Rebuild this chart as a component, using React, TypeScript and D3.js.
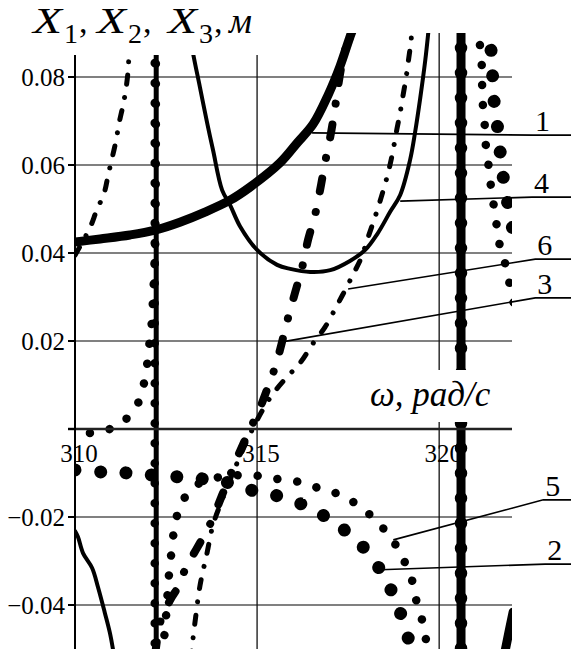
import React from "react";
import * as d3 from "d3";

// Frequency response of the three masses, two parameter sets (1–3 and 4–6)
type Pt = [number, number];

const omegaTicks = [310, 315, 320];
const xTicksY = [0.08, 0.06, 0.04, 0.02, 0, -0.02, -0.04];
const xTickLabels = ["0.08", "0.06", "0.04", "0.02", "", "\u22120.02", "\u22120.04"];

// curve 1: X1, first set
const x1a: Pt[] = [
  [310.0, 0.0425], [310.69, 0.0432], [311.51, 0.0441], [312.2, 0.0452], [312.88, 0.047],
  [313.57, 0.0493], [314.26, 0.052], [314.81, 0.055], [315.63, 0.0605], [316.1, 0.065],
  [316.54, 0.0693], [316.95, 0.0759], [317.28, 0.0825], [317.55, 0.0891], [317.64, 0.0911],
];
const x1b: Pt[] = [[321.76, -0.0525], [321.9, -0.0468], [322.03, -0.0416]];

// curve 2: X2, first set
const x2a: Pt[] = [
  [310.0, -0.0093], [310.77, -0.0098], [311.46, -0.01], [312.14, -0.0105], [312.88, -0.0109],
  [313.57, -0.0114], [314.26, -0.0123], [315.0, -0.0143], [315.71, -0.0155], [316.46, -0.018],
  [317.14, -0.0214], [317.83, -0.0261], [318.38, -0.032], [318.74, -0.0377], [319.01, -0.0436],
  [319.2, -0.0491], [319.29, -0.0525],
];
const x2b: Pt[] = [
  [321.35, 0.0918], [321.4, 0.088], [321.46, 0.0827], [321.48, 0.0766], [321.57, 0.0709],
  [321.65, 0.065], [321.73, 0.0589], [321.84, 0.0532], [321.98, 0.0473], [322.09, 0.0418],
];

// curve 3: X3, first set
const x3a: Pt[] = [
  [312.2, -0.0514], [312.34, -0.0439], [312.5, -0.0407], [312.66, -0.0382], [312.83, -0.0359],
  [313.02, -0.032], [313.21, -0.0291], [313.43, -0.0259], [313.63, -0.023], [313.85, -0.0189],
  [314.04, -0.015], [314.26, -0.0105], [314.45, -0.0066], [314.67, -0.0025], [314.86, 0.0009],
  [315.08, 0.0048], [315.27, 0.0089], [315.44, 0.0127], [315.63, 0.018], [315.82, 0.0243],
  [316.04, 0.0309], [316.24, 0.0368], [316.4, 0.043], [316.59, 0.0486], [316.73, 0.0543],
  [316.87, 0.0607], [317.01, 0.0664], [317.14, 0.073], [317.23, 0.0782], [317.36, 0.0843],
  [317.47, 0.0877], [317.61, 0.0918],
];

// curve 4: X1, second set
const x4a: Pt[] = [
  [310.0, -0.0232], [310.08, -0.0245], [310.22, -0.0282], [310.47, -0.0316], [310.63, -0.0359],
  [310.82, -0.0418], [310.96, -0.0464], [311.07, -0.0514],
];
const x4b: Pt[] = [
  [313.13, 0.0911], [313.24, 0.0855], [313.43, 0.0777], [313.63, 0.0695], [313.79, 0.0634],
  [314.04, 0.0543], [314.26, 0.0509], [314.53, 0.0461], [315.0, 0.0407], [315.55, 0.0373],
  [315.91, 0.0364], [316.46, 0.0357], [317.01, 0.0361], [317.55, 0.0382], [317.97, 0.0407],
  [318.3, 0.0443], [318.65, 0.0493], [318.93, 0.0532], [319.2, 0.0611], [319.34, 0.0675],
  [319.48, 0.0752], [319.62, 0.0839], [319.7, 0.09], [319.73, 0.0925],
];

// curve 5: X2, second set
const x5a: Pt[] = [
  [310.41, -0.0009], [310.96, 0.0], [311.46, 0.0027], [311.81, 0.0073], [311.92, 0.0118],
  [312.01, 0.0164], [312.06, 0.0209], [312.12, 0.0252], [312.14, 0.0298], [312.17, 0.0343],
  [312.2, 0.0407], [312.22, 0.0634], [312.22, 0.0907],
];
const x5b: Pt[] = [
  [312.39, -0.0514], [312.47, -0.0457], [312.53, -0.0389], [312.58, -0.0332], [312.64, -0.0286],
  [312.72, -0.023], [312.83, -0.0189], [313.02, -0.0155], [313.38, -0.0125], [313.98, -0.0109],
  [314.53, -0.0105], [315.08, -0.0107], [315.58, -0.0114], [316.13, -0.012], [316.68, -0.0134],
  [317.23, -0.0148], [317.77, -0.0173], [318.3, -0.0211], [318.74, -0.0255], [319.04, -0.03],
  [319.26, -0.0345], [319.37, -0.0389], [319.53, -0.0434], [319.64, -0.048], [319.73, -0.0525],
];
const x5c: Pt[] = [
  [321.1, 0.0918], [321.13, 0.0857], [321.18, 0.0816], [321.18, 0.077], [321.21, 0.0725],
  [321.26, 0.0682], [321.29, 0.0636], [321.37, 0.0591], [321.43, 0.0545], [321.51, 0.0502],
  [321.59, 0.0457], [321.68, 0.0411], [321.84, 0.0368], [321.95, 0.0323], [322.06, 0.0282],
];

// curve 6: X3, second set
const x6a: Pt[] = [
  [310.0, 0.0395], [310.05, 0.0402], [310.19, 0.0423], [310.41, 0.0457], [310.6, 0.0498],
  [310.8, 0.0536], [310.91, 0.0577], [311.02, 0.0616], [311.13, 0.0657], [311.21, 0.0695],
  [311.32, 0.0736], [311.4, 0.0773], [311.46, 0.0816], [311.48, 0.085], [311.51, 0.09],
  [311.54, 0.093],
];
const x6b: Pt[] = [
  [313.19, -0.0525], [313.21, -0.05], [313.32, -0.0423], [313.43, -0.0357], [313.63, -0.028],
  [313.79, -0.0218], [314.04, -0.0161], [314.31, -0.0105], [314.67, -0.0036], [315.03, 0.0025],
  [315.41, 0.0077], [315.82, 0.0118], [316.18, 0.015], [316.54, 0.0195], [316.87, 0.0232],
  [317.17, 0.0277], [317.42, 0.0316], [317.66, 0.0355], [317.86, 0.0389], [318.05, 0.0436],
  [318.24, 0.0482], [318.41, 0.0527], [318.57, 0.0573], [318.71, 0.0623], [318.82, 0.0673],
  [318.93, 0.072], [319.01, 0.0759], [319.09, 0.0798], [319.15, 0.0834], [319.23, 0.0884],
  [319.26, 0.0918],
];

// resonance frequencies where the traces jump between ±∞
const poleOmegas = [312.23, 320.6];

// curve labels: point on the curve, then the bend of the leader line
const labelNames = ["1", "4", "6", "3", "5", "2"];
const labelAnchors: Pt[] = [
  [316.51, 0.0673], [318.93, 0.0518], [317.5, 0.0318], [315.69, 0.0198], [318.74, -0.0252], [318.38, -0.032],
];
const labelBends: Pt[] = [
  [322.58, 0.0668], [322.55, 0.0527], [322.64, 0.0386], [322.64, 0.0298], [322.86, -0.0161], [322.91, -0.0307],
];

const W = 571;
const H = 649;
const left = 75;
const right = 512;
const top = 33;
const bottom = 649;
const serif = "'Times New Roman', 'Liberation Serif', serif";

const x = d3.scaleLinear().domain([310, 322]).range([left, right]);
const y = d3.scaleLinear().domain([-0.05, 0.09]).range([bottom, top]);
const line = d3
  .line<Pt>()
  .x((d) => x(d[0]))
  .y((d) => y(d[1]))
  .curve(d3.curveCatmullRom.alpha(0.5));

type Style = { width: number; dash?: string };
const solidThick: Style = { width: 9 };
const bigDots: Style = { width: 13, dash: "0.01 25.5" };
const dashDotThick: Style = { width: 8, dash: "13 21 0.01 21" };
const solidThin: Style = { width: 4 };
const smallDots: Style = { width: 8.5, dash: "0.01 20" };
const dashDotThin: Style = { width: 5, dash: "9 13.5 0.01 13.5" };

const traces: { pts: Pt[]; style: Style }[] = [
  { pts: x4a, style: solidThin },
  { pts: x4b, style: solidThin },
  { pts: x6a, style: dashDotThin },
  { pts: x6b, style: dashDotThin },
  { pts: x3a, style: dashDotThick },
  { pts: x1a, style: solidThick },
  { pts: x1b, style: solidThick },
  { pts: x5a, style: smallDots },
  { pts: x5b, style: smallDots },
  { pts: x5c, style: smallDots },
  { pts: x2a, style: bigDots },
  { pts: x2b, style: bigDots },
];

const poleStyles = [
  { line: 5, dots: smallDots, dx: -1.5 },
  { line: 9, dots: { width: 12.5, dash: "0.01 25" }, dx: 0 },
];

// symbols of the vertical axis title: letter, subscript, x of the letter
const titleSymbols: [string, string, number][] = [
  ["X", "1", 33],
  ["X", "2", 97],
  ["X", "3", 168],
];

export default function App() {
  return (
    <svg width={W} height={H} style={{ display: "block", position: "absolute", left: 0, top: 0 }}>
      <rect width={W} height={H} fill="#fff" />
      <defs>
        <clipPath id="plot">
          <rect x={left} y={top} width={right - left} height={bottom - top} />
        </clipPath>
      </defs>

      {/* horizontal grid */}
      {xTicksY.map((v) =>
        v === 0 ? null : (
          <line key={v} x1={left} x2={right} y1={y(v)} y2={y(v)} stroke="#808080" strokeWidth={2} />
        )
      )}
      {/* vertical grid */}
      {omegaTicks.slice(1).map((w) => (
        <line key={w} x1={x(w)} x2={x(w)} y1={top} y2={bottom} stroke="#111" strokeWidth={1.3} />
      ))}

      <g clipPath="url(#plot)">
        {poleOmegas.map((w, i) => (
          <g key={w}>
            <line x1={x(w)} x2={x(w)} y1={top - 10} y2={bottom + 10} stroke="#000" strokeWidth={poleStyles[i].line} />
            <line
              x1={x(w) + poleStyles[i].dx}
              x2={x(w) + poleStyles[i].dx}
              y1={top - 10}
              y2={bottom + 10}
              stroke="#000"
              strokeWidth={poleStyles[i].dots.width}
              strokeDasharray={poleStyles[i].dots.dash}
              strokeLinecap="round"
            />
          </g>
        ))}
        {traces.map((t, i) => (
          <path
            key={i}
            d={line(t.pts) || ""}
            fill="none"
            stroke="#000"
            strokeWidth={t.style.width}
            strokeDasharray={t.style.dash}
            strokeLinecap="round"
            strokeLinejoin="round"
          />
        ))}
      </g>

      {/* axes */}
      <line x1={left - 7} x2={right} y1={y(0)} y2={y(0)} stroke="#222" strokeWidth={2.5} />
      <line x1={left} x2={left} y1={top} y2={bottom} stroke="#000" strokeWidth={2} />
      {xTicksY.map((v) => (
        <line key={v} x1={left - 7} x2={left} y1={y(v)} y2={y(v)} stroke="#000" strokeWidth={2} />
      ))}
      {xTicksY.map((v, i) => (
        <text key={v} x={left - 10} y={y(v) + 9} textAnchor="end" fontFamily={serif} fontSize={25} fill="#000">
          {xTickLabels[i]}
        </text>
      ))}
      {omegaTicks.map((w) => (
        <text key={w} x={x(w) + 4} y={y(0) + 33} textAnchor="middle" fontFamily={serif} fontSize={25} fill="#000">
          {w}
        </text>
      ))}

      {/* axis titles */}
      <rect x={0} y={0} width={262} height={55} fill="#fff" />
      <g fontFamily={serif} fill="#000">
        {titleSymbols.map(([s, sub, tx]) => (
          <g key={sub}>
            <text x={tx} y={33} fontSize={36} fontStyle="italic" textLength={29} lengthAdjust="spacingAndGlyphs">
              {s}
            </text>
            <text x={tx + 31} y={43} fontSize={28}>{sub}</text>
            <text x={tx + 46} y={33} fontSize={34}>,</text>
          </g>
        ))}
        <text x={229} y={33} fontSize={36} fontStyle="italic">м</text>
      </g>
      <rect x={365} y={370} width={140} height={52} fill="#fff" />
      <text x={370} y={406} fontFamily={serif} fontSize={35} fontStyle="italic" fill="#000">
        ω, рад/с
      </text>

      {/* curve labels */}
      {labelNames.map((name, i) => {
        const [ax, ay] = labelAnchors[i];
        const [bx, by] = labelBends[i];
        return (
          <g key={name}>
            <polyline
              points={`${x(ax)},${y(ay)} ${x(bx)},${y(by)} ${W},${y(by)}`}
              fill="none"
              stroke="#000"
              strokeWidth={1.6}
            />
            <text x={x(bx) + 2} y={y(by) - 4} fontFamily={serif} fontSize={30} fill="#000">
              {name}
            </text>
          </g>
        );
      })}
    </svg>
  );
}
